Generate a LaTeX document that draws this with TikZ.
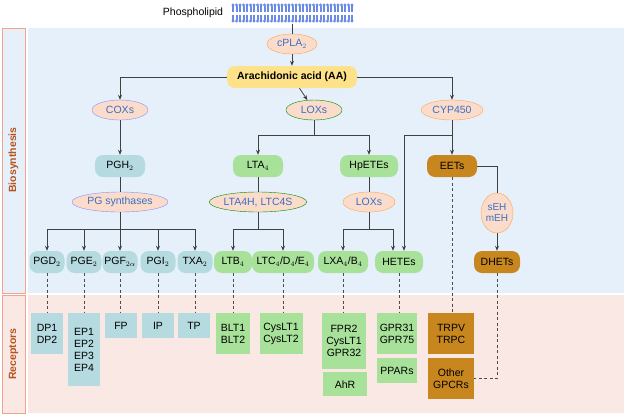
\documentclass[tikz,border=0pt]{standalone}
\usepackage{fontspec}
\setmainfont{Liberation Sans}
\usetikzlibrary{shapes.geometric,arrows.meta}
\definecolor{bluebg}{HTML}{E6F0FB}
\definecolor{pinkbg}{HTML}{F9E8E4}
\definecolor{sidec}{HTML}{B5541C}
\definecolor{sideline}{HTML}{F2A58C}
\definecolor{enzf}{HTML}{FBDCCB}
\definecolor{enzt}{HTML}{3A6FC4}
\definecolor{tealf}{HTML}{B5DAE0}
\definecolor{greenf}{HTML}{A8E29A}
\definecolor{brownf}{HTML}{C8861F}
\definecolor{yellowf}{HTML}{FDE28A}
\definecolor{memb}{HTML}{6A8AE6}
\begin{document}
\begin{tikzpicture}[x=1pt,y=-1pt,
  font=\fontsize{10.5}{12}\selectfont,
  enz/.style={ellipse,draw=#1,fill=enzf,text=enzt,inner sep=0pt,minimum height=20pt},
  met/.style={rounded corners=8pt,fill=#1,minimum height=22pt,inner sep=1pt},
  rec/.style={fill=#1,align=center,inner sep=0pt,anchor=north},
  ln/.style={draw=black!75,line width=0.8pt},
  ar/.style={ln,-{Stealth[length=5pt,width=4pt]}},
  dl/.style={draw=black!70,line width=0.8pt,dash pattern=on 3pt off 2.5pt}]
\useasboundingbox (0,0) rectangle (624,416);
% panels
\fill[bluebg] (28,28) rectangle (624,293);
\fill[pinkbg] (28,295) rectangle (624,413);
\draw[sideline,fill=bluebg] (2,28) rectangle (25,293);
\draw[sideline,fill=pinkbg] (2,295) rectangle (25,413);
\node[rotate=90,text=sidec,font=\bfseries\fontsize{10.5}{12}\selectfont] (bs) at (13.5,160) {Biosynthesis};
\node[rotate=90,text=sidec,font=\bfseries\fontsize{10.5}{12}\selectfont] (rc) at (13.5,354) {Receptors};
% membrane
\node (pl) at (193,13) {Phospholipid};
\foreach \i in {0,...,34}{
  \pgfmathsetmacro\xx{233+3.5*\i}
  \fill[memb] (\xx,5) circle (1.7) (\xx,21) circle (1.7);
  \draw[memb,line width=0.5pt] (\xx-0.6,6) -- (\xx-0.6,11.5) (\xx+0.6,6) -- (\xx+0.6,11.5)
     (\xx-0.6,14.5) -- (\xx-0.6,20) (\xx+0.6,14.5) -- (\xx+0.6,20);
}
\coordinate (mb) at (292,24);
% enzymes and metabolites
\node[enz=orange!70,minimum width=50pt] (cpla) at (292,44) {cPLA$_2$};
\node[met=yellowf,minimum width=130pt,font=\bfseries\fontsize{10.5}{12}\selectfont] (aa) at (292,77) {Arachidonic acid (AA)};
\node[enz=blue!45,minimum width=56pt] (cox) at (120,110) {COXs};
\node[enz=green!55!black,minimum width=56pt] (lox) at (314,110) {LOXs};
\node[enz=orange!70,minimum width=62pt] (cyp) at (452,110) {CYP450};
\node[met=tealf,minimum width=50pt] (pgh) at (120,166) {PGH$_2$};
\node[met=greenf,minimum width=50pt] (lta) at (258,166) {LTA$_4$};
\node[met=greenf,minimum width=58pt] (hpe) at (369,166) {HpETEs};
\node[met=brownf,minimum width=50pt] (eet) at (452,166) {EETs};
\node[enz=blue!45,minimum width=96pt] (pgs) at (120,202) {PG synthases};
\node[enz=green!55!black,minimum width=96pt] (ltah) at (258,202) {LTA4H, LTC4S};
\node[enz=orange!70,minimum width=52pt] (lox2) at (369,202) {LOXs};
\node[enz=orange!70,minimum width=32pt,minimum height=40pt,align=center,font=\fontsize{10}{11}\selectfont] (seh) at (497,213) {sEH\\mEH};
\foreach \n/\x/\t in {pgd/47/PGD$_2$,pge/84/PGE$_2$,pgf/120/PGF$_{2\alpha}$,pgi/158/PGI$_2$,txa/195/TXA$_2$}
  \node[met=tealf,minimum width=35pt] (\n) at (\x,262) {\t};
\node[met=greenf,minimum width=38pt] (ltb) at (233,262) {LTB$_4$};
\node[met=greenf,minimum width=62pt] (ltc) at (283,262) {LTC$_4$/D$_4$/E$_4$};
\node[met=greenf,minimum width=50pt] (lxa) at (343,262) {LXA$_4$/B$_4$};
\node[met=greenf,minimum width=48pt] (het) at (399,262) {HETEs};
\node[met=brownf,minimum width=46pt] (dhet) at (497,262) {DHETs};
% receptors
\node[rec=tealf,minimum width=32pt,minimum height=41pt] (r1) at (47,313) {DP1\\DP2};
\node[rec=tealf,minimum width=32pt,minimum height=73pt] (r2) at (84,313) {EP1\\EP2\\EP3\\EP4};
\node[rec=tealf,minimum width=32pt,minimum height=25pt] (r3) at (121,313) {FP};
\node[rec=tealf,minimum width=32pt,minimum height=25pt] (r4) at (158,313) {IP};
\node[rec=tealf,minimum width=32pt,minimum height=25pt] (r5) at (194,313) {TP};
\node[rec=greenf,minimum width=34pt,minimum height=41pt] (r6) at (233,313) {BLT1\\BLT2};
\node[rec=greenf,minimum width=43pt,minimum height=41pt] (r7) at (281,313) {CysLT1\\CysLT2};
\node[rec=greenf,minimum width=44pt,minimum height=56pt] (r8) at (344,313) {FPR2\\CysLT1\\GPR32};
\node[rec=greenf,minimum width=44pt,minimum height=24pt] (r9) at (345,372) {AhR};
\node[rec=greenf,minimum width=40pt,minimum height=41pt] (r10) at (397,313) {GPR31\\GPR75};
\node[rec=greenf,minimum width=40pt,minimum height=25pt] (r11) at (397,358) {PPARs};
\node[rec=brownf,minimum width=46pt,minimum height=41pt] (r12) at (451,313) {TRPV\\TRPC};
\node[rec=brownf,minimum width=46pt,minimum height=41pt] (r13) at (451,358) {Other\\GPCRs};
% connectors
\draw[ln] (mb) -- (cpla);
\draw[ar] (cpla) -- (aa);
\draw[ar] (aa.west) -| (cox.north);
\draw[ar] (aa.east) -| (cyp.north);
\draw[ar] (aa) -- (lox);
\draw[ar] (cox) -- (pgh);
\coordinate (lj) at (314,135);
\draw[ar] (lox) -- (lj) -| (lta.north);
\draw[ar] (lj) -| (hpe.north);
\coordinate (cj) at (452,135);
\draw[ar] (cyp) -- (eet);
\draw[ar] (cj) -| ([xshift=5pt]het.north);
\draw[ln] (pgh) -- (pgs);
\draw[ln] (lta) -- (ltah);
\draw[ln] (hpe) -- (lox2);
\coordinate (pj) at (120,229);
\draw[ar] (pgs) -- (pgf);
\foreach \n in {pgd,pge,pgi,txa} \draw[ar] (pj) -| (\n.north);
\coordinate (tj) at (258,229);
\draw[ln] (ltah) -- (tj);
\draw[ar] (tj) -| (ltb.north);
\draw[ar] (tj) -| (ltc.north);
\coordinate (xj) at (369,229);
\draw[ln] (lox2) -- (xj);
\draw[ar] (xj) -| (lxa.north);
\draw[ar] (xj) -| ([xshift=-6pt]het.north);
\draw[ln] (eet.east) -| (seh.north);
\draw[ar] (seh) -- (dhet);
% dashed
\foreach \a/\b in {pgd/r1,pge/r2,pgf/r3,pgi/r4,txa/r5,ltb/r6,ltc/r7,lxa/r8,het/r10}
  \draw[dl] (\a.south) -- (\a.south |- \b.north);
\draw[dl] (eet.south) -- (eet.south |- r12.north);
\draw[dl] (dhet.south) |- (r13.east);
\end{tikzpicture}
\end{document}
